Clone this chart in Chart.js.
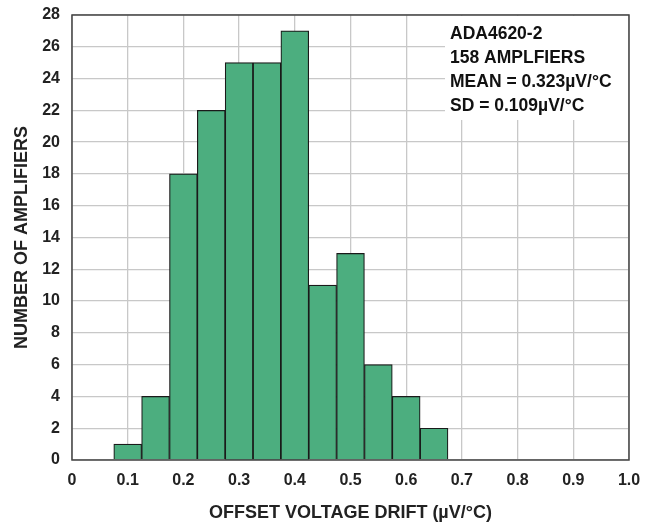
<!DOCTYPE html>
<html>
<head>
<meta charset="utf-8">
<script src="https://cdn.jsdelivr.net/npm/chart.js@4"></script>
<style>
  html, body { margin: 0; padding: 0; background: #fff; }
</style>
</head>
<body>
<canvas id="chart" width="659" height="526"></canvas>
<script>
// Histogram bins (centre of each 0.05 wide bin) and counts
const binCenters = [0.10, 0.15, 0.20, 0.25, 0.30, 0.35, 0.40, 0.45, 0.50, 0.55, 0.60, 0.65];
const counts     = [1, 4, 18, 22, 25, 25, 27, 11, 13, 6, 4, 2];

const xTickLabels = ['0', '0.1', '0.2', '0.3', '0.4', '0.5', '0.6', '0.7', '0.8', '0.9', '1.0'];
const noteLines = [
  'ADA4620-2',
  '158 AMPLFIERS',
  'MEAN = 0.323\u00b5V/\u00b0C',
  'SD = 0.109\u00b5V/\u00b0C',
];

const FONT = '"Liberation Sans", Arial, sans-serif';

// white note box in the top right corner + plot frame
const notePlugin = {
  id: 'note',
  afterDraw(chart) {
    const { ctx, chartArea: a } = chart;
    ctx.save();
    ctx.fillStyle = '#fff';
    ctx.fillRect(445, a.top + 1, a.right - 446, 119 - a.top);
    ctx.fillStyle = '#111';
    ctx.font = 'bold 17.5px ' + FONT;
    ctx.textBaseline = 'middle';
    noteLines.forEach((line, i) => {
      ctx.fillText(line, 450, 34 + i * 24.2);
    });
    ctx.strokeStyle = '#444';
    ctx.lineWidth = 1.5;
    ctx.strokeRect(a.left, a.top, a.right - a.left, a.bottom - a.top);
    ctx.restore();
  },
};

new Chart(document.getElementById('chart'), {
  type: 'bar',
  data: {
    datasets: [{
      data: binCenters.map((x, i) => ({ x, y: counts[i] })),
      backgroundColor: '#4cae7f',
      borderColor: '#1a1a1a',
      borderWidth: 1.2,
      barPercentage: 1,
      categoryPercentage: 1,
    }],
  },
  options: {
    responsive: false,
    animation: false,
    layout: { padding: { top: 15, right: 30, left: 0, bottom: 0 } },
    plugins: {
      legend: { display: false },
      tooltip: { enabled: false },
    },
    scales: {
      x: {
        type: 'linear',
        min: 0,
        max: 1,
        offset: false,
        grid: { offset: false, color: '#c8c8c8', lineWidth: 1.3, drawTicks: false },
        border: { display: false },
        ticks: {
          stepSize: 0.1,
          padding: 11,
          color: '#222',
          font: { family: FONT, size: 16, weight: 'bold' },
          callback: v => xTickLabels[Math.round(v * 10)],
        },
        title: {
          display: true,
          text: 'OFFSET VOLTAGE DRIFT (\u00b5V/\u00b0C)',
          color: '#222',
          font: { family: FONT, size: 18, weight: 'bold' },
          padding: { top: 10, bottom: 2 },
        },
        afterFit: s => { s.height = 66; },
      },
      y: {
        min: 0,
        max: 28,
        grid: { color: '#c8c8c8', lineWidth: 1.3, drawTicks: false },
        border: { display: false },
        ticks: {
          stepSize: 2,
          padding: 12,
          color: '#222',
          font: { family: FONT, size: 16, weight: 'bold' },
        },
        title: {
          display: true,
          text: 'NUMBER OF AMPLIFIERS',
          color: '#222',
          font: { family: FONT, size: 18, weight: 'bold' },
          padding: { top: 11, bottom: 0 },
        },
        afterFit: s => {
          s.width = 72;
          s.paddingTop = 0;
          s.paddingBottom = 0;
        },
      },
    },
  },
  plugins: [notePlugin],
});
</script>
</body>
</html>
